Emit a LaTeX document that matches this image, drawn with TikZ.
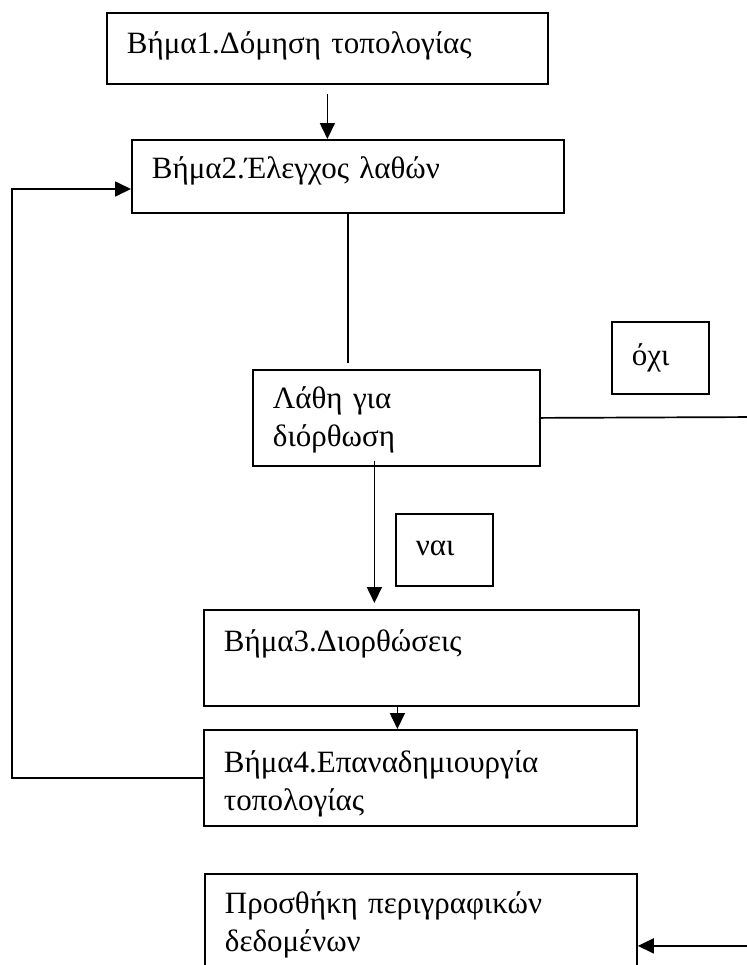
\documentclass[tikz,border=0pt]{standalone}
\usepackage{fontspec}
\setmainfont{Liberation Serif}
\usetikzlibrary{arrows.meta,calc}

\tikzset{
  box/.style={draw, line width=0.9pt, anchor=north west, align=left,
    inner xsep=10pt, inner ysep=0pt, font=\fontsize{15.5}{19}\selectfont},
  arr/.style={-{Triangle[length=8pt,width=7.5pt]}, line width=0.85pt},
  link/.style={line width=0.85pt}
}

\begin{document}
\begin{tikzpicture}[x=0.5pt,y=-0.5pt]
  \useasboundingbox (0,0) rectangle (747,965);
  \fill[white] (0,0) rectangle (747,965);
  \clip (0,0) rectangle (747,965);

  \node[box, text width=200.5pt, text height=20.5pt, text depth=15pt] (step1) at (106,12) {Βήμα1.Δόμηση τοπολογίας};
  \node[box, text width=196pt, text height=19.5pt, text depth=17pt] (step2) at (131,139) {Βήμα2.Έλεγχος λαθών};
  \node[box, text width=123.5pt, text height=19.5pt, text depth=28.5pt] (check) at (252,369) {Λάθη για\\διόρθωση};
  \node[box, text width=28.5pt, text height=22pt, text depth=14pt] (no) at (611,321) {όχι};
  \node[box, text width=28.5pt, text height=21pt, text depth=15pt] (yes) at (395,513) {ναι};
  \node[box, text width=197.5pt, text height=21pt, text depth=27pt] (step3) at (203,609) {Βήμα3.Διορθώσεις};
  \node[box, text width=196.5pt, text height=21.5pt, text depth=26.5pt] (step4) at (203,729) {Βήμα4.Επαναδημιουργία\\τοπολογίας};
  \node[box, text width=196pt, text height=20pt, text depth=52pt] (meta) at (204,873) {Προσθήκη περιγραφικών\\δεδομένων};

  \coordinate (back) at (12,189); % return path on the left
  \coordinate (rim) at (760,417); % "no" path, runs off the page

  \draw[arr] ($(step1.south)+(0,9)$) -- (step1.south |- step2.north);
  \draw[link] (step2.south) -- ($(step2.south |- check.north)+(0,-6)$);
  \draw[arr] ($(check.south)+(-22,-6)$) -- ($(check.south |- step3.north)+(-22,-6)$);
  \draw[arr] ($(step3.south)+(-24,0)$) -- ($(step3.south |- step4.north)+(-24,0)$);
  \draw[arr] (step4.west) -| (back) -- (back -| step2.west);
  \draw[arr] (check.east) -- (rim) |- (meta.east);
\end{tikzpicture}
\end{document}
